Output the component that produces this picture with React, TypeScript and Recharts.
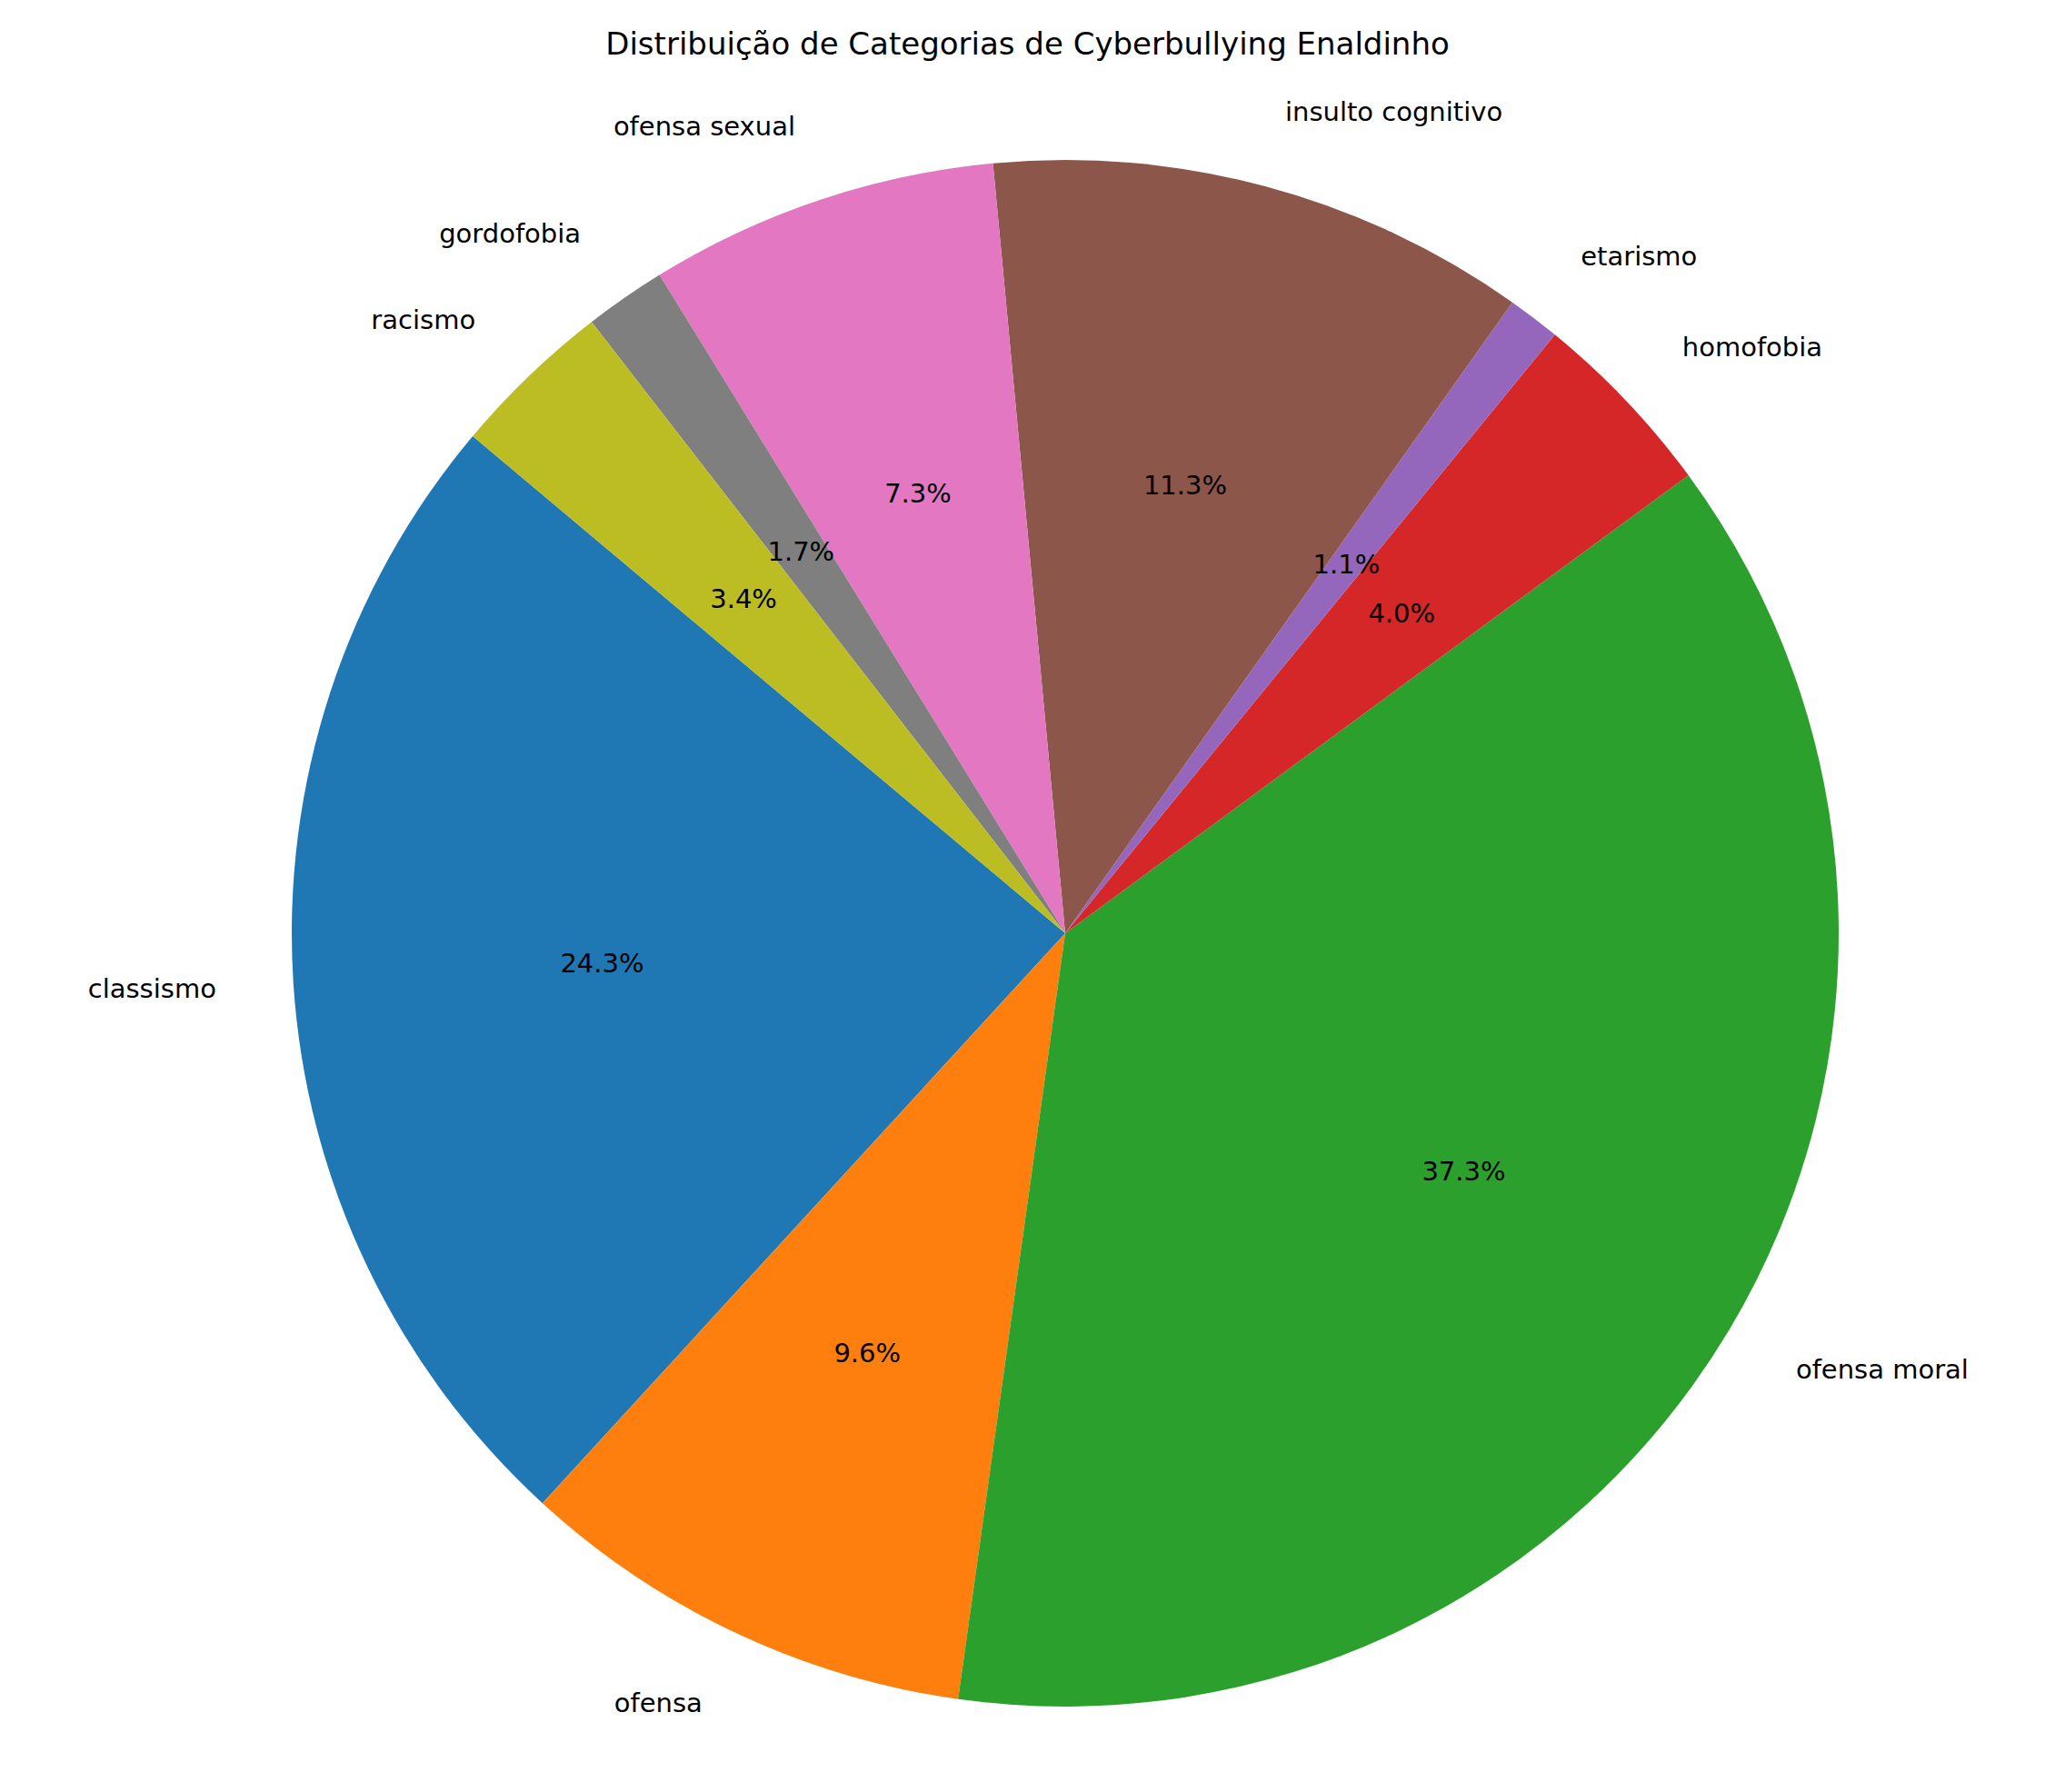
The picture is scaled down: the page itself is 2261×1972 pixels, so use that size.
import { PieChart, Pie, Cell } from 'recharts';

const categories = ['classismo', 'ofensa', 'ofensa moral', 'homofobia', 'etarismo', 'insulto cognitivo', 'ofensa sexual', 'gordofobia', 'racismo'];
const shares = [24.3, 9.6, 37.3, 4.0, 1.1, 11.3, 7.3, 1.7, 3.4];
const colors = ['#1f77b4', '#ff7f0e', '#2ca02c', '#d62728', '#9467bd', '#8c564b', '#e377c2', '#7f7f7f', '#bcbd22'];

const data = categories.map((name, i) => ({ name, value: shares[i] }));

const RADIAN = Math.PI / 180;
const FONT = 'DejaVu Sans, sans-serif';

function renderLabel(props: any) {
  const { cx, cy, midAngle, outerRadius, percent, name } = props;
  const cos = Math.cos(-midAngle * RADIAN);
  const sin = Math.sin(-midAngle * RADIAN);
  const lx = cx + outerRadius * 1.1 * cos;
  const ly = cy + outerRadius * 1.1 * sin;
  const px = cx + outerRadius * 0.6 * cos;
  const py = cy + outerRadius * 0.6 * sin;
  return (
    <g>
      <text x={lx} y={ly} textAnchor={cos >= 0 ? 'start' : 'end'} dominantBaseline="central" fontSize={29} fill="#000" fontFamily={FONT}>
        {name}
      </text>
      <text x={px} y={py} textAnchor="middle" dominantBaseline="central" fontSize={29} fill="#000" fontFamily={FONT}>
        {(percent * 100).toFixed(1)}%
      </text>
    </g>
  );
}

export default function App() {
  return (
    <div style={{ position: 'absolute', left: 0, top: 0, width: 2261, height: 1972, background: '#fff' }}>
      <div style={{ position: 'absolute', top: 28, width: 2261, textAlign: 'center', fontSize: 34, fontFamily: FONT, color: '#000' }}>
        Distribuição de Categorias de Cyberbullying Enaldinho
      </div>
      <PieChart width={2261} height={1972}>
        <Pie
          data={data}
          dataKey="value"
          nameKey="name"
          cx={1167}
          cy={1022}
          outerRadius={851}
          startAngle={140}
          endAngle={500}
          stroke="none"
          label={renderLabel}
          labelLine={false}
          isAnimationActive={false}
        >
          {data.map((d, i) => (
            <Cell key={d.name} fill={colors[i]} />
          ))}
        </Pie>
      </PieChart>
    </div>
  );
}
